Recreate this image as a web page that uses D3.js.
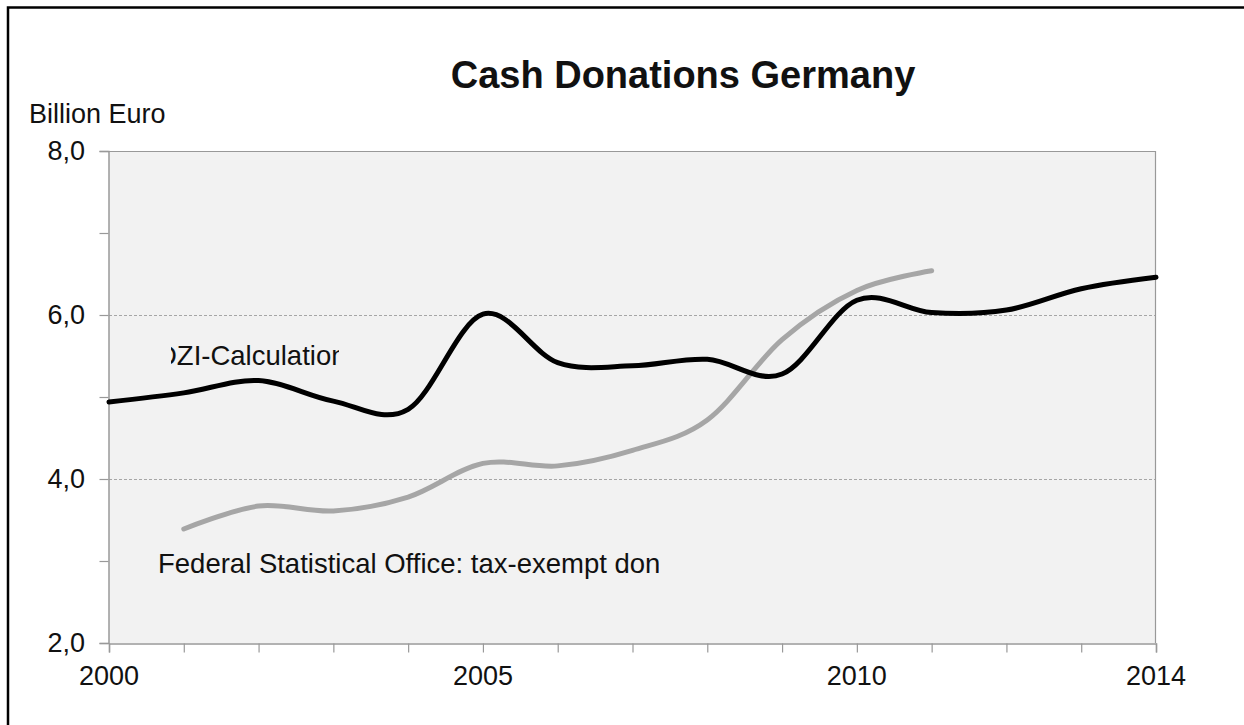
<!DOCTYPE html>
<html>
<head>
<meta charset="utf-8">
<script src="https://cdn.jsdelivr.net/npm/d3@7"></script>
<style>
  html, body { margin: 0; padding: 0; background: #fff; }
  svg { display: block; font-family: "Liberation Sans", Arial, sans-serif; }
</style>
</head>
<body>
<svg id="chart" width="1244" height="725"></svg>
<script>
// Cash donations in Germany, billion euro
const years = [2000, 2001, 2002, 2003, 2004, 2005, 2006, 2007, 2008, 2009, 2010, 2011, 2012, 2013, 2014];
const dziValues = [4.94, 5.05, 5.20, 4.95, 4.85, 6.01, 5.42, 5.38, 5.46, 5.28, 6.18, 6.03, 6.06, 6.32, 6.46];
const fedYears = [2001, 2002, 2003, 2004, 2005, 2006, 2007, 2008, 2009, 2010, 2011];
const fedValues = [3.39, 3.67, 3.61, 3.78, 4.19, 4.16, 4.35, 4.72, 5.70, 6.30, 6.54];
const xTickLabels = [2000, 2005, 2010, 2014];
const yTickLabels = [2, 4, 6, 8];
const yGridValues = [4, 6];

const svg = d3.select("#chart");
const plot = { left: 109, right: 1156, top: 151, bottom: 643 };

const x = d3.scaleLinear().domain([2000, 2014]).range([plot.left, plot.right]);
const y = d3.scaleLinear().domain([2, 8]).range([plot.bottom, plot.top]);

// outer frame
svg.append("path")
  .attr("d", "M8,1300 L8,7.5 L1400,7.5")
  .attr("fill", "none").attr("stroke", "#000").attr("stroke-width", 2.5);

// plot background
svg.append("rect")
  .attr("x", plot.left).attr("y", plot.top)
  .attr("width", plot.right - plot.left).attr("height", plot.bottom - plot.top)
  .attr("fill", "#f2f2f2");

// dashed gridlines
svg.append("g").selectAll("line").data(yGridValues).join("line")
  .attr("x1", plot.left).attr("x2", plot.right)
  .attr("y1", d => y(d) + 0.5).attr("y2", d => y(d) + 0.5)
  .attr("stroke", "#a6a6a6").attr("stroke-width", 1).attr("stroke-dasharray", "3,2");

// plot border (top and right)
svg.append("path")
  .attr("d", `M${plot.left},${plot.top + 0.5} L${plot.right - 0.5},${plot.top + 0.5} L${plot.right - 0.5},${plot.bottom}`)
  .attr("fill", "none").attr("stroke", "#999").attr("stroke-width", 1.2);

// y axis
const yAxis = d3.axisLeft(y).tickValues(d3.range(2, 8.01, 1)).tickSize(9).tickFormat("");
const gy = svg.append("g").attr("transform", `translate(${plot.left - 0.5},0)`).call(yAxis);
gy.select(".domain").attr("stroke", "#999").attr("stroke-width", 1.5);
gy.selectAll(".tick line").attr("stroke", "#999").attr("stroke-width", 1.2);

svg.append("g").selectAll("text").data(yTickLabels).join("text")
  .attr("x", 85).attr("y", d => y(d))
  .attr("dy", "0.35em")
  .attr("text-anchor", "end")
  .attr("font-size", 27).attr("fill", "#111")
  .text(d => d3.format(".1f")(d).replace(".", ","));

// x axis
const xAxis = d3.axisBottom(x).tickValues(years).tickSize(9).tickFormat("");
const gx = svg.append("g").attr("transform", `translate(0,${plot.bottom + 0.5})`).call(xAxis);
gx.select(".domain").attr("stroke", "#999").attr("stroke-width", 1.5);
gx.selectAll(".tick line").attr("stroke", "#999").attr("stroke-width", 1.2);

svg.append("g").selectAll("text").data(xTickLabels).join("text")
  .attr("x", d => x(d)).attr("y", 685)
  .attr("text-anchor", "middle")
  .attr("font-size", 27).attr("fill", "#111")
  .text(d => d);

// title and unit
svg.append("text")
  .attr("x", 683).attr("y", 88)
  .attr("text-anchor", "middle")
  .attr("font-size", 38).attr("font-weight", "bold").attr("fill", "#111")
  .text("Cash Donations Germany");

svg.append("text")
  .attr("x", 29).attr("y", 123)
  .attr("font-size", 27).attr("fill", "#111")
  .text("Billion Euro");

// series lines
const line = d3.line()
  .x(d => x(d[0])).y(d => y(d[1]))
  .curve(d3.curveCardinal.tension(0));

svg.append("path")
  .datum(fedYears.map((yr, i) => [yr, fedValues[i]]))
  .attr("d", line)
  .attr("fill", "none").attr("stroke", "#a6a6a6")
  .attr("stroke-width", 5).attr("stroke-linecap", "round");

svg.append("path")
  .datum(years.map((yr, i) => [yr, dziValues[i]]))
  .attr("d", line)
  .attr("fill", "none").attr("stroke", "#000")
  .attr("stroke-width", 5).attr("stroke-linecap", "round");

// series labels, each inside a fixed-width text box
const defs = svg.append("defs");
defs.append("clipPath").attr("id", "clip-dzi")
  .append("rect").attr("x", 171).attr("y", 330).attr("width", 168).attr("height", 50);
defs.append("clipPath").attr("id", "clip-fed")
  .append("rect").attr("x", 150).attr("y", 540).attr("width", 509).attr("height", 50);

svg.append("text")
  .attr("clip-path", "url(#clip-dzi)")
  .attr("x", 157).attr("y", 365)
  .attr("font-size", 27.5).attr("fill", "#111")
  .text("DZI-Calculation");

svg.append("text")
  .attr("clip-path", "url(#clip-fed)")
  .attr("x", 158).attr("y", 573)
  .attr("font-size", 27.5).attr("fill", "#111")
  .text("Federal Statistical Office: tax-exempt donations");
</script>
</body>
</html>
